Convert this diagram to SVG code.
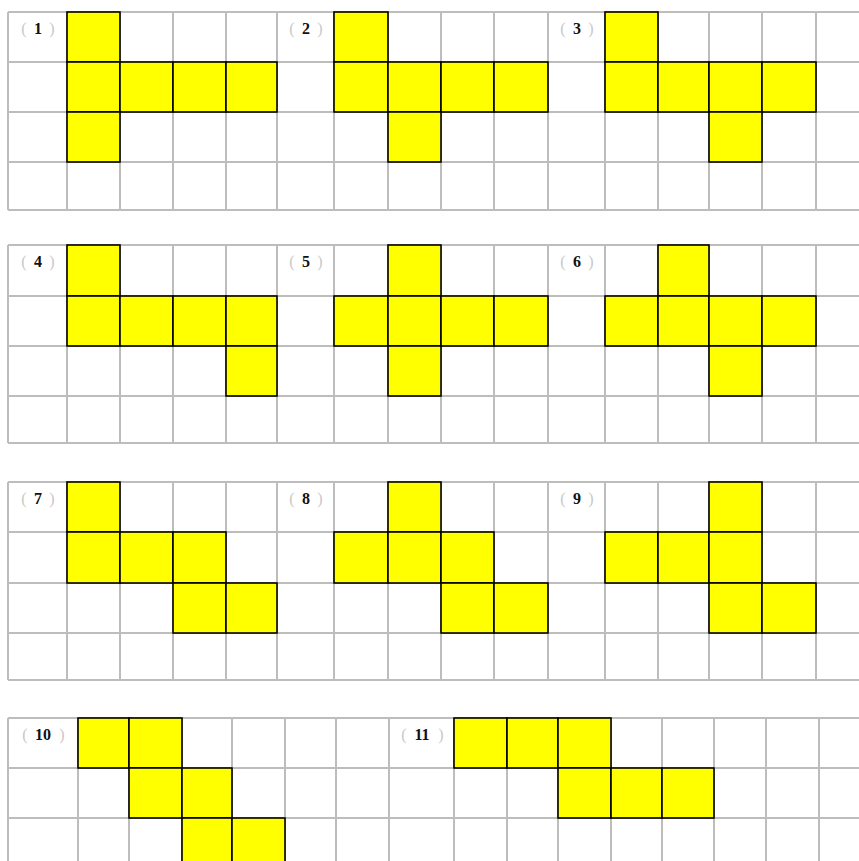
<svg xmlns="http://www.w3.org/2000/svg" width="859" height="861" viewBox="0 0 859 861">
<style>
.grid{fill:none;stroke:#bdbdbd;stroke-width:2}
.cell{fill:#ffff00;stroke:#000;stroke-width:1.6}
.lbl{font-family:"Liberation Serif",serif;font-size:16px;text-anchor:middle}
.p{fill:#c8c8c8;font-weight:normal}
.d{fill:#111;font-weight:bold}
</style>
<rect width="859" height="861" fill="#fff"/>
<g id="grid" class="grid">
<path d="M8,12H859M8,62H859M8,112H859M8,162H859M8,210H859M8,12V210M67,12V210M120,12V210M173,12V210M226,12V210M277,12V210M334,12V210M388,12V210M441,12V210M494,12V210M548,12V210M605,12V210M658,12V210M709,12V210M762,12V210M816,12V210"/>
<path d="M8,245H859M8,296H859M8,346H859M8,396H859M8,443H859M8,245V443M67,245V443M120,245V443M173,245V443M226,245V443M277,245V443M334,245V443M388,245V443M441,245V443M494,245V443M548,245V443M605,245V443M658,245V443M709,245V443M762,245V443M816,245V443"/>
<path d="M8,482H859M8,532H859M8,583H859M8,633H859M8,680H859M8,482V680M67,482V680M120,482V680M173,482V680M226,482V680M277,482V680M334,482V680M388,482V680M441,482V680M494,482V680M548,482V680M605,482V680M658,482V680M709,482V680M762,482V680M816,482V680"/>
<path d="M8,718H859M8,768H859M8,818H859M8,718V861M78,718V861M129,718V861M182,718V861M232,718V861M285,718V861M336,718V861M389,718V861M454,718V861M507,718V861M558,718V861M611,718V861M662,718V861M714,718V861M766,718V861M819,718V861"/>
</g>
<g id="fig1">
<text class="lbl" y="34"><tspan class="p" x="24">(</tspan><tspan class="d" x="38">1</tspan><tspan class="p" x="52">)</tspan></text>
<rect class="cell" x="67" y="12" width="53" height="50"/>
<rect class="cell" x="67" y="62" width="53" height="50"/>
<rect class="cell" x="120" y="62" width="53" height="50"/>
<rect class="cell" x="173" y="62" width="53" height="50"/>
<rect class="cell" x="226" y="62" width="51" height="50"/>
<rect class="cell" x="67" y="112" width="53" height="50"/>
</g>
<g id="fig2">
<text class="lbl" y="34"><tspan class="p" x="292">(</tspan><tspan class="d" x="306">2</tspan><tspan class="p" x="320">)</tspan></text>
<rect class="cell" x="334" y="12" width="54" height="50"/>
<rect class="cell" x="334" y="62" width="54" height="50"/>
<rect class="cell" x="388" y="62" width="53" height="50"/>
<rect class="cell" x="441" y="62" width="53" height="50"/>
<rect class="cell" x="494" y="62" width="54" height="50"/>
<rect class="cell" x="388" y="112" width="53" height="50"/>
</g>
<g id="fig3">
<text class="lbl" y="34"><tspan class="p" x="563">(</tspan><tspan class="d" x="577">3</tspan><tspan class="p" x="591">)</tspan></text>
<rect class="cell" x="605" y="12" width="53" height="50"/>
<rect class="cell" x="605" y="62" width="53" height="50"/>
<rect class="cell" x="658" y="62" width="51" height="50"/>
<rect class="cell" x="709" y="62" width="53" height="50"/>
<rect class="cell" x="762" y="62" width="54" height="50"/>
<rect class="cell" x="709" y="112" width="53" height="50"/>
</g>
<g id="fig4">
<text class="lbl" y="267"><tspan class="p" x="24">(</tspan><tspan class="d" x="38">4</tspan><tspan class="p" x="52">)</tspan></text>
<rect class="cell" x="67" y="245" width="53" height="51"/>
<rect class="cell" x="67" y="296" width="53" height="50"/>
<rect class="cell" x="120" y="296" width="53" height="50"/>
<rect class="cell" x="173" y="296" width="53" height="50"/>
<rect class="cell" x="226" y="296" width="51" height="50"/>
<rect class="cell" x="226" y="346" width="51" height="50"/>
</g>
<g id="fig5">
<text class="lbl" y="267"><tspan class="p" x="292">(</tspan><tspan class="d" x="306">5</tspan><tspan class="p" x="320">)</tspan></text>
<rect class="cell" x="388" y="245" width="53" height="51"/>
<rect class="cell" x="334" y="296" width="54" height="50"/>
<rect class="cell" x="388" y="296" width="53" height="50"/>
<rect class="cell" x="441" y="296" width="53" height="50"/>
<rect class="cell" x="494" y="296" width="54" height="50"/>
<rect class="cell" x="388" y="346" width="53" height="50"/>
</g>
<g id="fig6">
<text class="lbl" y="267"><tspan class="p" x="563">(</tspan><tspan class="d" x="577">6</tspan><tspan class="p" x="591">)</tspan></text>
<rect class="cell" x="658" y="245" width="51" height="51"/>
<rect class="cell" x="605" y="296" width="53" height="50"/>
<rect class="cell" x="658" y="296" width="51" height="50"/>
<rect class="cell" x="709" y="296" width="53" height="50"/>
<rect class="cell" x="762" y="296" width="54" height="50"/>
<rect class="cell" x="709" y="346" width="53" height="50"/>
</g>
<g id="fig7">
<text class="lbl" y="504"><tspan class="p" x="24">(</tspan><tspan class="d" x="38">7</tspan><tspan class="p" x="52">)</tspan></text>
<rect class="cell" x="67" y="482" width="53" height="50"/>
<rect class="cell" x="67" y="532" width="53" height="51"/>
<rect class="cell" x="120" y="532" width="53" height="51"/>
<rect class="cell" x="173" y="532" width="53" height="51"/>
<rect class="cell" x="173" y="583" width="53" height="50"/>
<rect class="cell" x="226" y="583" width="51" height="50"/>
</g>
<g id="fig8">
<text class="lbl" y="504"><tspan class="p" x="292">(</tspan><tspan class="d" x="306">8</tspan><tspan class="p" x="320">)</tspan></text>
<rect class="cell" x="388" y="482" width="53" height="50"/>
<rect class="cell" x="334" y="532" width="54" height="51"/>
<rect class="cell" x="388" y="532" width="53" height="51"/>
<rect class="cell" x="441" y="532" width="53" height="51"/>
<rect class="cell" x="441" y="583" width="53" height="50"/>
<rect class="cell" x="494" y="583" width="54" height="50"/>
</g>
<g id="fig9">
<text class="lbl" y="504"><tspan class="p" x="563">(</tspan><tspan class="d" x="577">9</tspan><tspan class="p" x="591">)</tspan></text>
<rect class="cell" x="709" y="482" width="53" height="50"/>
<rect class="cell" x="605" y="532" width="53" height="51"/>
<rect class="cell" x="658" y="532" width="51" height="51"/>
<rect class="cell" x="709" y="532" width="53" height="51"/>
<rect class="cell" x="709" y="583" width="53" height="50"/>
<rect class="cell" x="762" y="583" width="54" height="50"/>
</g>
<g id="fig10">
<text class="lbl" y="740"><tspan class="p" x="25">(</tspan><tspan class="d" x="43">10</tspan><tspan class="p" x="62">)</tspan></text>
<rect class="cell" x="78" y="718" width="51" height="50"/>
<rect class="cell" x="129" y="718" width="53" height="50"/>
<rect class="cell" x="129" y="768" width="53" height="50"/>
<rect class="cell" x="182" y="768" width="50" height="50"/>
<rect class="cell" x="182" y="818" width="50" height="50"/>
<rect class="cell" x="232" y="818" width="53" height="50"/>
</g>
<g id="fig11">
<text class="lbl" y="740"><tspan class="p" x="404">(</tspan><tspan class="d" x="422">11</tspan><tspan class="p" x="441">)</tspan></text>
<rect class="cell" x="454" y="718" width="53" height="50"/>
<rect class="cell" x="507" y="718" width="51" height="50"/>
<rect class="cell" x="558" y="718" width="53" height="50"/>
<rect class="cell" x="558" y="768" width="53" height="50"/>
<rect class="cell" x="611" y="768" width="51" height="50"/>
<rect class="cell" x="662" y="768" width="52" height="50"/>
</g>
</svg>
